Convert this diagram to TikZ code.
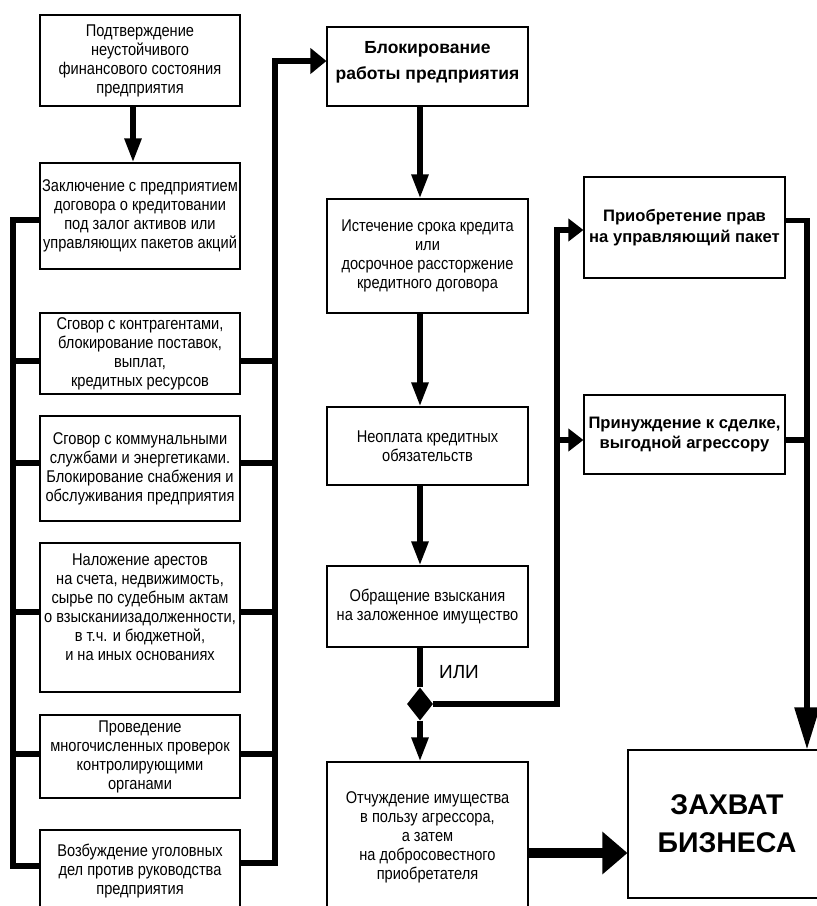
\documentclass[tikz,border=0pt]{standalone}
\usepackage{fontspec}
\setmainfont{Liberation Sans}
\newfontfamily\narrowfont{Liberation Sans}[FakeStretch=0.86]
\usetikzlibrary{arrows.meta,shapes.geometric}
\begin{document}
\begin{tikzpicture}[x=1pt,y=-1pt,
  box/.style={draw, line width=1.1pt, inner sep=0pt, align=center,
    font=\narrowfont\fontsize{17}{19}\selectfont},
  bbox/.style={box, font=\bfseries\fontsize{16.6}{20.5}\selectfont},
  conn/.style={line width=5.5pt},
  dn/.style={conn, -{Triangle[width=16pt,length=24pt]}},
  rt/.style={conn, -{Triangle[width=22pt,length=15pt]}},
  rtb/.style={conn, -{Triangle[width=25pt,length=16pt]}},
  bigdn/.style={conn, -{Triangle[width=24pt,length=42pt]}},
  bigrt/.style={line width=10pt, -{Triangle[width=41pt,length=25pt]}},
]
\useasboundingbox (0,0) rectangle (817,906);

% left column
\node[box, minimum width=200pt, minimum height=91pt] (A) at (140,60.5)
  {Подтверждение\\неустойчивого\\финансового состояния\\предприятия};
\node[box, minimum width=200pt, minimum height=106pt] (B) at (140,216)
  {Заключение с предприятием\\договора о кредитовании\\под залог активов или\\управляющих пакетов акций};
\node[box, minimum width=200pt, minimum height=81pt] (C) at (140,353.5)
  {Сговор с контрагентами,\\блокирование поставок,\\выплат,\\кредитных ресурсов};
\node[box, minimum width=200pt, minimum height=105pt] (D) at (140,468.5)
  {Сговор с коммунальными\\службами и энергетиками.\\Блокирование снабжения и\\обслуживания предприятия};
\node[box, minimum width=200pt, minimum height=149pt, text depth=20pt] (E) at (140,617.5)
  {Наложение арестов\\на счета, недвижимость,\\сырье по судебным актам\\о взысканиизадолженности,\\в т.ч. и бюджетной,\\и на иных основаниях};
\node[box, minimum width=200pt, minimum height=83pt] (F) at (140,756.5)
  {Проведение\\многочисленных проверок\\контролирующими\\органами};
\node[box, minimum width=200pt, minimum height=82pt] (G) at (140,871)
  {Возбуждение уголовных\\дел против руководства\\предприятия};

% middle column
\node[bbox, minimum width=201pt, minimum height=79pt, text depth=12pt,
  font=\bfseries\fontsize{17.5}{26}\selectfont] (H) at (427.5,66.5)
  {Блокирование\\работы предприятия};
\node[box, minimum width=201pt, minimum height=114pt] (I) at (427.5,256)
  {Истечение срока кредита\\или\\досрочное рассторжение\\кредитного договора};
\node[box, minimum width=201pt, minimum height=78pt] (J) at (427.5,446)
  {Неоплата кредитных\\обязательств};
\node[box, minimum width=201pt, minimum height=81pt] (K) at (427.5,606.5)
  {Обращение взыскания\\на заложенное имущество};
\node[box, minimum width=201pt, minimum height=150pt] (L) at (427.5,837)
  {Отчуждение имущества\\в пользу агрессора,\\а затем\\на добросовестного\\приобретателя};

% right column
\node[bbox, minimum width=201pt, minimum height=101pt] (M) at (684.5,227.5)
  {Приобретение прав\\на управляющий пакет};
\node[bbox, minimum width=201pt, minimum height=79pt] (N) at (684.5,434.5)
  {Принуждение к сделке,\\выгодной агрессору};
\node[box, minimum width=198pt, minimum height=148pt,
  font=\bfseries\fontsize{28.5}{38}\selectfont] (Z) at (727,824)
  {ЗАХВАТ\\БИЗНЕСА};

\node[diamond, fill=black, inner sep=0pt, minimum width=26pt, minimum height=33pt] (dia) at (420,704) {};
\node[font=\fontsize{19}{22}\selectfont] (ili) at (459,672) {ИЛИ};

% coordinates for bus lines
\coordinate (lb) at (13,0);
\coordinate (rb) at (275,0);
\coordinate (mx) at (420,0);
\coordinate (vx) at (557,0);
\coordinate (zx) at (807,0);

\coordinate (Bw) at ([yshift=-4pt]B.west);
\coordinate (Cw) at ([yshift=-7.5pt]C.west);
\coordinate (Ce) at ([yshift=-7.5pt]C.east);
\coordinate (Dw) at ([yshift=5.5pt]D.west);
\coordinate (De) at ([yshift=5.5pt]D.east);
\coordinate (Ew) at ([yshift=5.5pt]E.west);
\coordinate (Ee) at ([yshift=5.5pt]E.east);
\coordinate (Fw) at ([yshift=2.5pt]F.west);
\coordinate (Fe) at ([yshift=2.5pt]F.east);
\coordinate (Gw) at ([yshift=5pt]G.west);
\coordinate (Ge) at ([yshift=8pt]G.east);
\coordinate (hin) at ([yshift=5.5pt]H.west);
\coordinate (Mw) at ([yshift=-2.5pt]M.west);
\coordinate (Nw) at ([yshift=-5.5pt]N.west);
\coordinate (Ne) at ([yshift=-5.5pt]N.east);
\coordinate (mout) at ([yshift=7pt]M.east);
\coordinate (lz) at ([yshift=-16pt]L.east);

% A -> B
\draw[dn] ([xshift=-7pt]A.south) -- ([xshift=-7pt]B.north);

% left bus
\draw[conn] (Bw) -| (lb |- Gw) -- (Gw);
\draw[conn] (lb |- Cw) -- (Cw);
\draw[conn] (lb |- Dw) -- (Dw);
\draw[conn] (lb |- Ew) -- (Ew);
\draw[conn] (lb |- Fw) -- (Fw);

% right bus
\draw[conn] (Ce) -- (rb |- Ce);
\draw[conn] (De) -- (rb |- De);
\draw[conn] (Ee) -- (rb |- Ee);
\draw[conn] (Fe) -- (rb |- Fe);
\draw[rtb] (Ge) -| (rb |- hin) -- (hin);

% middle chain
\draw[dn] (H.south -| mx) -- (I.north -| mx);
\draw[dn] (I.south -| mx) -- (J.north -| mx);
\draw[dn] (J.south -| mx) -- (K.north -| mx);
\draw[conn] (K.south -| mx) -- (dia.north);
\draw[dn] (dia.south) -- (L.north -| mx);

% branch to right
\draw[rt] (dia.east) -| (vx |- Mw) -- (Mw);
\draw[rt] (vx |- Nw) -- (Nw);

% to capture
\draw[bigdn] (mout) -| (Z.north -| zx);
\draw[conn] (Ne) -- (zx |- Ne);
\draw[bigrt] (lz) -- (lz -| Z.west);
\end{tikzpicture}
\end{document}
